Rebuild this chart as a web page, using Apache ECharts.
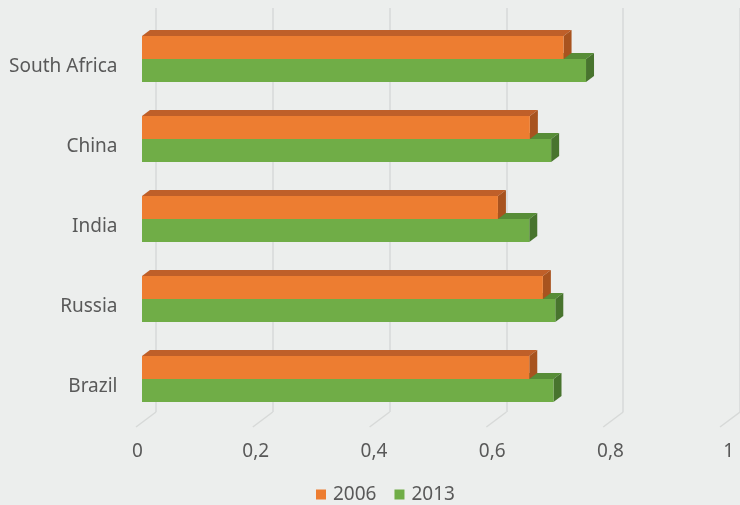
<!DOCTYPE html>
<html>
<head>
<meta charset="utf-8">
<script src="https://cdn.jsdelivr.net/npm/echarts@6/dist/echarts.min.js"></script>
<style>
  html, body { margin: 0; padding: 0; background: #eceeed; }
  #chart { width: 740px; height: 505px; }
</style>
</head>
<body>
<div id="chart"></div>
<script>
// data
const categories = ['South Africa', 'China', 'India', 'Russia', 'Brazil']
const values2006 = [0.713, 0.656, 0.602, 0.678, 0.655]
const values2013 = [0.751, 0.692, 0.655, 0.699, 0.696]
const xTicks = [0, 0.2, 0.4, 0.6, 0.8, 1]
const xTickLabels = ['0', '0,2', '0,4', '0,6', '0,8', '1']

const FONT = "'Noto Sans', sans-serif"
const TEXT = '#595959'
const FS = 19
const BAR_DEPTH = [8, -6]     // bar top/side offset
const FLOOR = [-20, 15]       // back wall -> front edge of floor
const SCALE_W = 591.25        // px for 0..1

const colors = {
  '2006': { front: '#ed7d31', top: '#bf5f29', side: '#a8531f' },
  '2013': { front: '#70ad47', top: '#578d37', side: '#48742e' }
}

function barRenderer(name, upper) {
  const c = colors[name]
  return function (params, api) {
    const v = api.value(0)
    const cat = api.value(1)
    const p0 = api.coord([0, cat])
    const p1 = api.coord([v, cat])
    const h = api.size([0, 1])[1] * 0.2875
    const yTop = upper ? p0[1] - h : p0[1]
    const yBot = upper ? p0[1] : p0[1] + h
    const x0 = p0[0], x1 = p1[0]
    const dx = BAR_DEPTH[0], dy = BAR_DEPTH[1]
    return {
      type: 'group',
      children: [
        { type: 'polygon', shape: { points: [[x0, yTop], [x1, yTop], [x1 + dx, yTop + dy], [x0 + dx, yTop + dy]] }, style: { fill: c.top } },
        { type: 'polygon', shape: { points: [[x1, yTop], [x1 + dx, yTop + dy], [x1 + dx, yBot + dy], [x1, yBot]] }, style: { fill: c.side } },
        { type: 'rect', shape: { x: x0, y: yTop, width: x1 - x0, height: yBot - yTop }, style: { fill: c.front } }
      ]
    }
  }
}

const chart = echarts.init(document.getElementById('chart'), null, { renderer: 'canvas' })

chart.setOption({
  backgroundColor: '#eceeed',
  animation: false,
  textStyle: { fontFamily: FONT },
  legend: {
    data: ['2006', '2013'],
    top: 480,
    left: 311,
    icon: 'rect',
    itemWidth: 10,
    itemHeight: 10,
    itemGap: 18,
    textStyle: { color: TEXT, fontSize: FS, fontFamily: FONT, padding: [0, 0, 0, 2] }
  },
  grid: [
    // bar front plane
    { left: 142, width: SCALE_W, top: 19, height: 400 },
    // back wall
    { left: 156, width: SCALE_W, top: 8, height: 404 },
    // front plane (labels)
    { left: 137.5, width: SCALE_W, top: 27, height: 400 }
  ],
  xAxis: [
    { gridIndex: 0, type: 'value', min: 0, max: 1, interval: 0.2, show: false },
    {
      gridIndex: 1, type: 'value', min: 0, max: 1, interval: 0.2,
      axisLine: { show: false }, axisTick: { show: false }, axisLabel: { show: false },
      splitLine: { show: true, lineStyle: { color: '#d7d9d8', width: 1.5 } }
    },
    {
      gridIndex: 2, type: 'value', min: 0, max: 1, interval: 0.2,
      axisLine: { show: false }, axisTick: { show: false }, splitLine: { show: false },
      axisLabel: {
        color: TEXT, fontSize: FS, fontFamily: FONT, margin: 15,
        formatter: v => xTickLabels[Math.round(v / 0.2)]
      }
    }
  ],
  yAxis: [
    { gridIndex: 0, type: 'category', data: categories, inverse: true, show: false },
    { gridIndex: 1, type: 'value', min: 0, max: 1, show: false },
    {
      gridIndex: 2, type: 'category', data: categories, inverse: true,
      axisLine: { show: false }, axisTick: { show: false },
      axisLabel: { color: TEXT, fontSize: FS, fontFamily: FONT, margin: 20 }
    }
  ],
  series: [
    {
      type: 'custom',
      name: 'floor',
      xAxisIndex: 1, yAxisIndex: 1,
      silent: true,
      renderItem: (params, api) => {
        const p = api.coord([api.value(0), 0])
        return {
          type: 'line',
          shape: { x1: p[0], y1: p[1], x2: p[0] + FLOOR[0], y2: p[1] + FLOOR[1] },
          style: { stroke: '#d7d9d8', lineWidth: 1.5 }
        }
      },
      data: xTicks.map(v => [v, 0])
    },
    {
      type: 'custom',
      name: '2013',
      xAxisIndex: 0, yAxisIndex: 0,
      itemStyle: { color: colors['2013'].front },
      renderItem: barRenderer('2013', false),
      data: values2013.map((v, i) => [v, i])
    },
    {
      type: 'custom',
      name: '2006',
      xAxisIndex: 0, yAxisIndex: 0,
      itemStyle: { color: colors['2006'].front },
      renderItem: barRenderer('2006', true),
      data: values2006.map((v, i) => [v, i])
    }
  ]
})
</script>
</body>
</html>
